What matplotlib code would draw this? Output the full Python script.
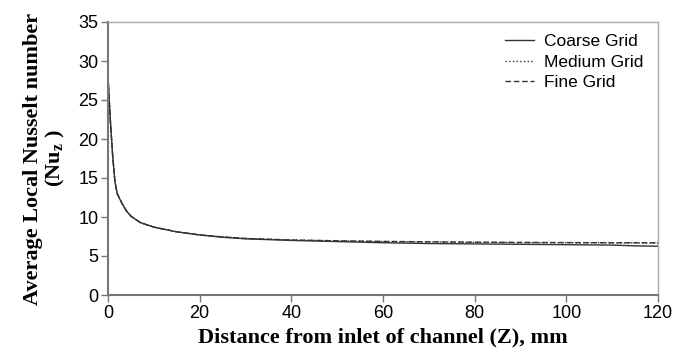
import matplotlib
matplotlib.use("Agg")
import matplotlib.pyplot as plt
import numpy as np

# distance from inlet (mm) and average local Nusselt number
z = [0, 0.5, 1, 1.5, 2, 3, 4, 5, 7, 10, 15, 20, 25, 30, 40, 50, 60, 70, 80, 90, 100, 110, 115, 120]
nu_coarse = [28.0, 22.5, 18.0, 14.6, 13.0, 11.8, 10.8, 10.1, 9.3, 8.7, 8.1, 7.7, 7.4, 7.2, 7.0,
             6.85, 6.7, 6.6, 6.55, 6.5, 6.45, 6.4, 6.3, 6.25]
nu_medium = [28.0, 22.5, 18.0, 14.6, 13.0, 11.8, 10.8, 10.1, 9.3, 8.7, 8.1, 7.7, 7.45, 7.25, 7.05,
             6.95, 6.85, 6.8, 6.75, 6.72, 6.7, 6.68, 6.66, 6.65]
nu_fine = [28.0, 22.5, 18.0, 14.6, 13.0, 11.8, 10.8, 10.1, 9.3, 8.7, 8.1, 7.7, 7.45, 7.25, 7.05,
           6.95, 6.87, 6.82, 6.77, 6.74, 6.72, 6.7, 6.7, 6.7]

xticks = [0, 20, 40, 60, 80, 100, 120]
yticks = [0, 5, 10, 15, 20, 25, 30, 35]

plt.rcParams['font.family'] = ['Liberation Sans', 'DejaVu Sans']
plt.rcParams['mathtext.fontset'] = 'custom'
plt.rcParams['mathtext.rm'] = 'Liberation Serif'
plt.rcParams['mathtext.bf'] = 'Liberation Serif:bold'

fig = plt.figure(figsize=(6.88, 3.55), dpi=100)
ax = fig.add_axes([108/688, 1 - 295/355, 550/688, 273/355])

ax.plot(z, nu_coarse, color='#333333', lw=1.0, ls='-', label='Coarse Grid')
ax.plot(z, nu_medium, color='#333333', lw=1.0, ls=':', label='Medium Grid')
ax.plot(z, nu_fine, color='#333333', lw=1.0, ls='--', dashes=(4, 2), label='Fine Grid')

ax.set_xlim(0, 120)
ax.set_ylim(0, 35)
ax.set_xticks(xticks)
ax.set_yticks(yticks)
ax.tick_params(axis='both', direction='out', length=5, width=1, color='#777777',
               labelsize=13, pad=2)

for side in ['left', 'bottom']:
    ax.spines[side].set_color('#777777')
    ax.spines[side].set_linewidth(1.5)
for side in ['top', 'right']:
    ax.spines[side].set_color('#aaaaaa')
    ax.spines[side].set_linewidth(1.0)

ax.set_xlabel('Distance from inlet of channel (Z), mm', family='Liberation Serif',
              fontweight='bold', fontsize=16)
ax.set_ylabel('Average Local Nusselt number\n(Nu$_{\\mathbf{z}}$ )', family='Liberation Serif',
              fontweight='bold', fontsize=16, linespacing=1.05)
ax.xaxis.set_label_coords(0.5, -0.12)
ax.yaxis.set_label_coords(-0.075, 0.5)

ax.legend(loc='upper right', frameon=False, fontsize=12.5, handlelength=1.7,
          handletextpad=0.55, labelspacing=0.3, borderaxespad=0.3,
          bbox_to_anchor=(0.995, 1.0))

fig.savefig('out.png', dpi=100)
